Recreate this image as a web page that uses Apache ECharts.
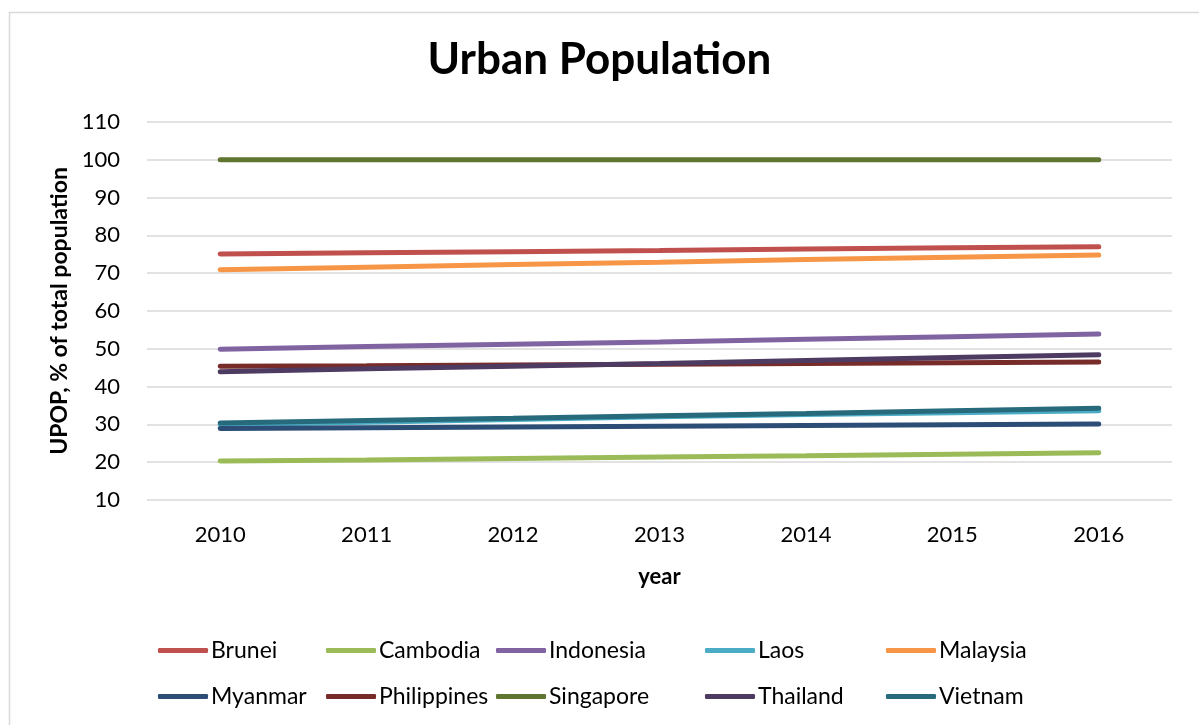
<!DOCTYPE html>
<html>
<head>
<meta charset="utf-8">
<script src="https://cdn.jsdelivr.net/npm/echarts@6/dist/echarts.min.js"></script>
<style>
  html, body { margin: 0; padding: 0; background: #fff; }
  #chart { width: 1199px; height: 725px; }
</style>
</head>
<body>
<div id="chart"></div>
<script>
// Urban population share (% of total population), 2010-2016
const years = ['2010', '2011', '2012', '2013', '2014', '2015', '2016'];

const brunei      = [75.1, 75.4, 75.7, 76.0, 76.4, 76.7, 77.0];
const cambodia    = [20.3, 20.6, 21.0, 21.4, 21.7, 22.1, 22.5];
const indonesia   = [49.9, 50.6, 51.2, 51.8, 52.5, 53.2, 53.9];
const laos        = [29.9, 30.6, 31.3, 32.0, 32.6, 33.1, 33.6];
const malaysia    = [70.9, 71.6, 72.3, 72.9, 73.6, 74.2, 74.8];
const myanmar     = [28.9, 29.1, 29.3, 29.5, 29.7, 29.9, 30.1];
const philippines = [45.4, 45.5, 45.7, 45.9, 46.1, 46.3, 46.5];
const singapore   = [100, 100, 100, 100, 100, 100, 100];
const thailand    = [43.9, 44.7, 45.4, 46.1, 46.9, 47.7, 48.4];
const vietnam     = [30.4, 31.0, 31.6, 32.3, 32.9, 33.6, 34.3];

const yTitle = 'UPOP, % of total population';

const seriesList = [
  { name: 'Brunei',      data: brunei,      color: '#C0504D' },
  { name: 'Cambodia',    data: cambodia,    color: '#9BBB59' },
  { name: 'Indonesia',   data: indonesia,   color: '#8064A2' },
  { name: 'Laos',        data: laos,        color: '#4BACC6' },
  { name: 'Malaysia',    data: malaysia,    color: '#F79646' },
  { name: 'Myanmar',     data: myanmar,     color: '#2C4D75' },
  { name: 'Philippines', data: philippines, color: '#772C2A' },
  { name: 'Singapore',   data: singapore,   color: '#5F7530' },
  { name: 'Thailand',    data: thailand,    color: '#4D3B62' },
  { name: 'Vietnam',     data: vietnam,     color: '#276A7C' }
];

const FONT = 'Lato, "Open Sans", sans-serif';

// Legend laid out as five columns of two rows each
const legendColumns = [
  { left: 153, names: ['Brunei', 'Myanmar'] },
  { left: 321, names: ['Cambodia', 'Philippines'] },
  { left: 491, names: ['Indonesia', 'Singapore'] },
  { left: 700, names: ['Laos', 'Thailand'] },
  { left: 881, names: ['Malaysia', 'Vietnam'] }
];

const chart = echarts.init(document.getElementById('chart'), null, { renderer: 'canvas' });

chart.setOption({
  backgroundColor: '#ffffff',
  animation: false,
  color: seriesList.map(s => s.color),
  graphic: [{
    type: 'rect',
    left: 7, top: 10,
    shape: { width: 1210, height: 730 },
    style: { fill: 'none', stroke: '#d9d9d9', lineWidth: 1.5 },
    silent: true
  }, {
    // vertical value-axis title
    type: 'text',
    x: 60, y: 311,
    rotation: Math.PI / 2,
    silent: true,
    style: {
      text: yTitle,
      fontFamily: FONT, fontSize: 23, fontWeight: 'bold', fill: '#000',
      align: 'center', verticalAlign: 'middle'
    }
  }],
  title: {
    text: 'Urban Population',
    left: 'center',
    top: 33,
    textStyle: { fontFamily: FONT, fontSize: 44, fontWeight: 'bold', color: '#000' }
  },
  legend: legendColumns.map(c => ({
    data: c.names,
    orient: 'vertical',
    left: c.left,
    top: 634,
    itemGap: 23,
    itemWidth: 50,
    itemHeight: 5,
    icon: 'roundRect',
    textStyle: { fontFamily: FONT, fontSize: 23, color: '#000', padding: [0, 0, 0, -2] }
  })),
  grid: { left: 147, right: 27, top: 122, bottom: 225 },
  xAxis: {
    type: 'category',
    data: years,
    boundaryGap: true,
    name: 'year',
    nameLocation: 'middle',
    nameGap: 66,
    nameTextStyle: { fontFamily: FONT, fontSize: 22, fontWeight: 'bold', color: '#000' },
    axisLine: { show: false },
    axisTick: { show: false },
    axisLabel: { fontFamily: FONT, fontSize: 22, color: '#000', margin: 24 }
  },
  yAxis: {
    type: 'value',
    min: 10,
    max: 110,
    interval: 10,
    axisLine: { show: false },
    axisTick: { show: false },
    axisLabel: { fontFamily: FONT, fontSize: 22, color: '#000', margin: 27 },
    splitLine: { lineStyle: { color: '#d9d9d9', width: 1.5 } }
  },
  series: seriesList.map(s => ({
    name: s.name,
    type: 'line',
    data: s.data,
    symbol: 'none',
    lineStyle: { width: 5, color: s.color, cap: 'round' },
    itemStyle: { color: s.color }
  }))
});
</script>
</body>
</html>
